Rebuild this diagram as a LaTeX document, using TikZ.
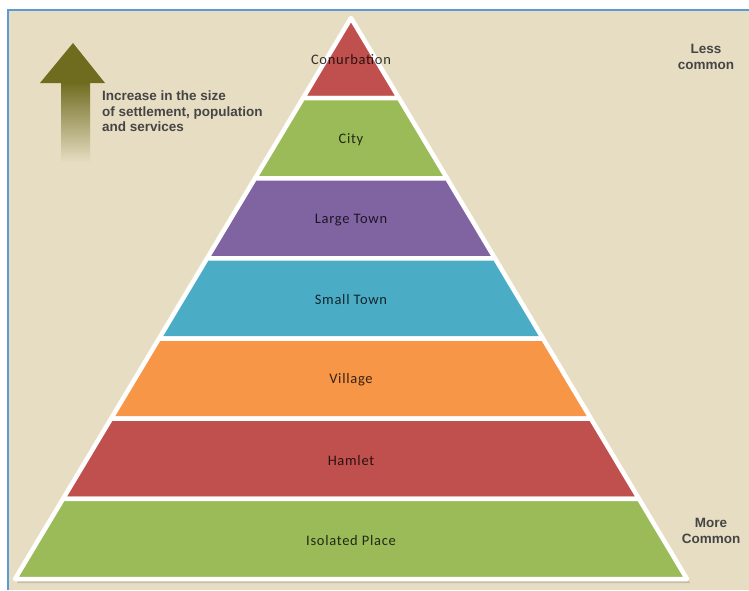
\documentclass[tikz,border=0pt]{standalone}
\usepackage{fontspec}
\setmainfont{Carlito}
\newfontfamily\headfont{Liberation Sans}
\usetikzlibrary{calc}
\definecolor{paper}{HTML}{E6DDC2}
\definecolor{frameblue}{HTML}{5B9BD5}
\definecolor{tierred}{HTML}{C0504D}
\definecolor{tiergreen}{HTML}{9BBB59}
\definecolor{tierpurple}{HTML}{8064A2}
\definecolor{tierblue}{HTML}{4BACC6}
\definecolor{tierorange}{HTML}{F79646}
\definecolor{olive}{HTML}{6F6C20}
\definecolor{notegray}{HTML}{454545}
\tikzset{
  band/.style={draw=white, line width=4.5pt, line join=round},
  tierlabel/.style={font=\fontsize{14.5}{16}\selectfont\addfontfeature{LetterSpace=5}, text=black, text opacity=0.78, inner sep=0pt},
  note/.style={font=\headfont\bfseries\fontsize{13.5}{15.5}\selectfont, text=notegray, inner sep=0pt},
}
\begin{document}
\begin{tikzpicture}[x=1pt, y=-1pt]
  \useasboundingbox (0,0) rectangle (749,590);
  % page and frame
  \fill[white] (0,0) rectangle (749,590);
  \fill[paper] (8,10) rectangle (749,590);
  \draw[frameblue, line width=1.6pt] (8,590) -- (8,10) -- (749,10);

  % soft shadow under the pyramid
  \fill[black, opacity=0.14] (353,21) -- (690,583) -- (17,583) -- cycle;

  % pyramid tiers, top to bottom
  \foreach \i/\col/\lab in {0/tierred/Conurbation, 1/tiergreen/City, 2/tierpurple/Large Town,
                            3/tierblue/Small Town, 4/tierorange/Village, 5/tierred/Hamlet,
                            6/tiergreen/Isolated Place} {
    \pgfmathsetmacro\ya{18+80.143*\i}
    \pgfmathsetmacro\yb{18+80.143*(\i+1)}
    \pgfmathsetmacro\wa{0.59893*(\ya-18)}
    \pgfmathsetmacro\wb{0.59893*(\yb-18)}
    \filldraw[band, fill=\col] ({351-\wa},\ya) -- ({351+\wa},\ya)
      -- ({351+\wb},\yb) -- ({351-\wb},\yb) -- cycle;
    \node[tierlabel] (tier\i) at (351,{(\ya+\yb)/2+1.5}) {\lab};
  }

  % rising arrow, fading towards its foot
  \shade[top color=olive, bottom color=paper, middle color=olive!50!paper]
    (61,82) rectangle (90,162);
  \fill[olive] (73,43) -- (105,83) -- (40,83) -- cycle;

  \node[note, anchor=north west, align=left] (rise) at (102,91)
    {Increase in the size\\of settlement, population\\and services};
  \node[note, align=center] (less) at (706,57) {Less\\common};
  \node[note, align=center] (more) at (711,531) {More\\Common};
\end{tikzpicture}
\end{document}
